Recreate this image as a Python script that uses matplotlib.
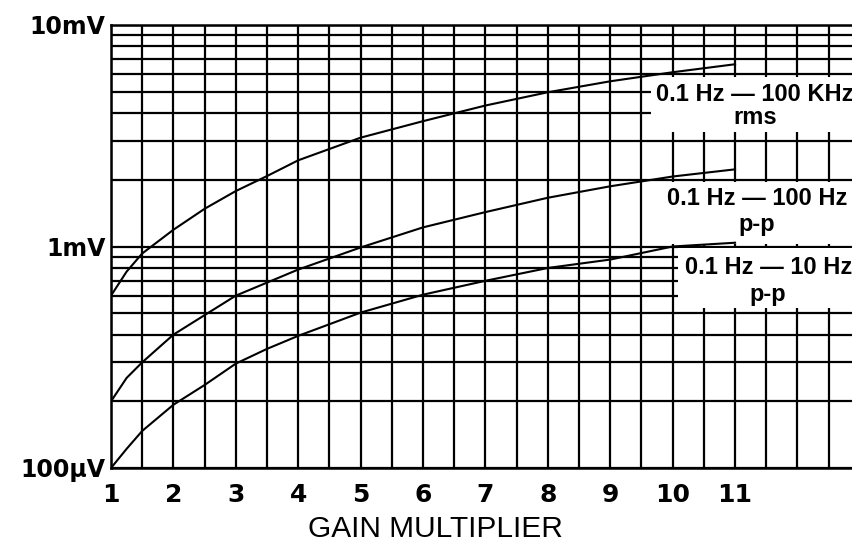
import numpy as np
import matplotlib
matplotlib.use("Agg")
import matplotlib.pyplot as plt
from matplotlib.patches import Rectangle

# Data (gain multiplier vs noise in mV)
gain = [1, 1.25, 1.5, 2, 2.5, 3, 3.5, 4, 5, 6, 7, 8, 9, 10, 11]
rms_100k = [0.60, 0.77, 0.93, 1.19, 1.48, 1.78, 2.08, 2.45, 3.10, 3.68, 4.33, 4.97, 5.57, 6.12, 6.65]
pp_100 = [0.20, 0.255, 0.30, 0.40, 0.49, 0.60, 0.687, 0.787, 0.99, 1.22, 1.43, 1.66, 1.87, 2.07, 2.23]
pp_10 = [0.10, 0.122, 0.147, 0.193, 0.237, 0.296, 0.345, 0.395, 0.503, 0.606, 0.70, 0.80, 0.873, 1.00, 1.04]

x_tick_vals = [1, 2, 3, 4, 5, 6, 7, 8, 9, 10, 11]
x_tick_labels = ["1", "2", "3", "4", "5", "6", "7", "8", "9", "10", "11"]
y_tick_vals = [0.1, 1, 10]
y_tick_labels = ["100\u00b5V", "1mV", "10mV"]

labels = [["0.1 Hz \u2014 100 KHz", "rms"],
          ["0.1 Hz \u2014 100 Hz", "p-p"],
          ["0.1 Hz \u2014 10 Hz", "p-p"]]

fig = plt.figure(figsize=(8.53, 5.44), dpi=100)
ax = fig.add_axes([111 / 853, 76 / 544, 742 / 853, 443 / 544])

ax.set_yscale("log")
ax.set_xlim(1, 12.89)
ax.set_ylim(0.1, 10)

ax.set_xticks(x_tick_vals)
ax.set_xticklabels(x_tick_labels)
minor_x = [v for v in np.arange(1.5, 12.6, 0.5) if v not in x_tick_vals]
ax.set_xticks(minor_x, minor=True)
ax.set_yticks(y_tick_vals)
ax.set_yticklabels(y_tick_labels)
ax.yaxis.set_minor_locator(matplotlib.ticker.LogLocator(base=10, subs=np.arange(2, 10)))
ax.yaxis.set_minor_formatter(matplotlib.ticker.NullFormatter())

ax.tick_params(which="both", length=0)
ax.tick_params(axis="x", pad=11)
ax.tick_params(axis="y", pad=4)
for lab in ax.get_xticklabels():
    lab.set_fontsize(18)
    lab.set_fontweight("bold")
    lab.set_family("DejaVu Sans")
for lab in ax.get_yticklabels():
    lab.set_fontsize(17)
    lab.set_fontweight("bold")
    lab.set_family("DejaVu Sans")

ax.set_axisbelow(True)
ax.grid(True, which="both", color="black", linewidth=1.6)

for side in ["left", "bottom", "top"]:
    ax.spines[side].set_linewidth(1.8)
    ax.spines[side].set_color("black")
ax.spines["right"].set_visible(False)

# White label boxes that interrupt the grid
boxes = [(9.65, 3.3, 5.85), (9.75, 1.03, 1.95), (10.09, 0.53, 0.985)]
for x0, y0, y1 in boxes:
    ax.add_patch(Rectangle((x0, y0), 13 - x0, y1 - y0, facecolor="white",
                           edgecolor="none", zorder=1.5))

for ys in (rms_100k, pp_100, pp_10):
    ax.plot(gain, ys, color="black", linewidth=1.5, zorder=3,
            solid_joinstyle="round")

label_pos = [(11.32, 4.87, 3.83), (11.35, 1.65, 1.26), (11.53, 0.80, 0.606)]
for (l1, l2), (xc, y1, y2) in zip(labels, label_pos):
    ax.text(xc, y1, l1, ha="center", va="center", fontsize=17, fontweight="bold",
            family="Liberation Sans", zorder=4, clip_on=False)
    ax.text(xc, y2, l2, ha="center", va="center", fontsize=17, fontweight="bold",
            family="Liberation Sans", zorder=4)

fig.text(435 / 853, 15 / 544, "GAIN MULTIPLIER", ha="center", va="center",
         fontsize=21.5, family="Liberation Sans")

fig.savefig("out.png", dpi=100, facecolor="white")
